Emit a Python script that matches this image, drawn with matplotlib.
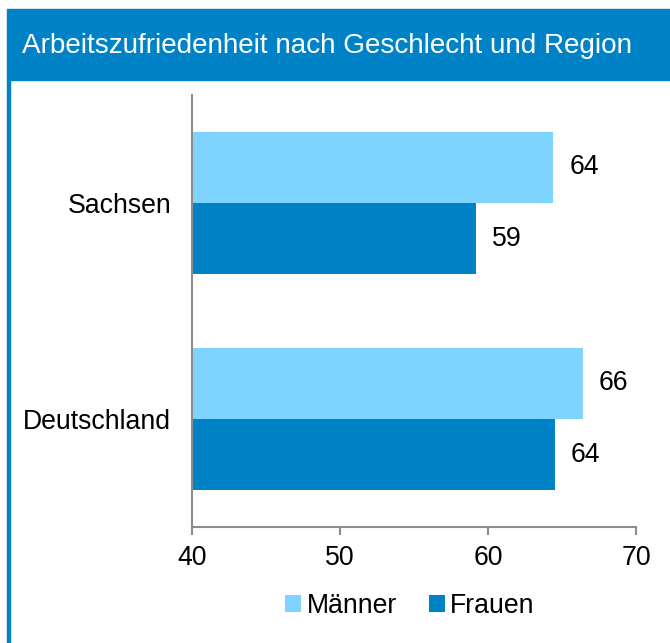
import matplotlib.pyplot as plt
from matplotlib.patches import Rectangle

# Daten
regionen = ['Deutschland', 'Sachsen']
maenner = [66.4, 64.4]
frauen = [64.5, 59.2]
maenner_lbl = [66, 64]
frauen_lbl = [64, 59]
xticks = [40, 50, 60, 70]

hell = '#7fd4ff'
dunkel = '#0083c6'
grau = '#8c8c8c'

plt.rcParams['font.family'] = ['Liberation Sans', 'DejaVu Sans']
fs = 19.2

fig = plt.figure(figsize=(6.7, 6.43), dpi=100)

# Titelbalken und linker Rand
fig.patches.append(Rectangle((7 / 670, 1 - 80 / 643), 1, 71 / 643,
                             transform=fig.transFigure, color=dunkel, zorder=0))
fig.patches.append(Rectangle((7 / 670, 0), 2.5 / 670, 1 - 80 / 643,
                             transform=fig.transFigure, color=dunkel, zorder=0))
fig.text(22 / 670, 1 - 46 / 643, 'Arbeitszufriedenheit nach Geschlecht und Region',
         color='white', fontsize=20.1, va='center', ha='left')

ax = fig.add_axes([192 / 670, 1 - 527 / 643, 444 / 670, 432 / 643])

h = 0.33
pos = list(range(len(regionen)))
ax.barh([p + h / 2 for p in pos], maenner, height=h, color=hell, label='Männer')
ax.barh([p - h / 2 for p in pos], frauen, height=h, color=dunkel, label='Frauen')

for p, v, l in zip(pos, maenner, maenner_lbl):
    ax.text(v + 1.1, p + h / 2, str(l), va='center', ha='left', fontsize=fs)
for p, v, l in zip(pos, frauen, frauen_lbl):
    ax.text(v + 1.1, p - h / 2, str(l), va='center', ha='left', fontsize=fs)

ax.set_xlim(40, 70)
ax.set_ylim(-0.5, 1.5)
ax.set_xticks(xticks)
ax.set_yticks(pos)
ax.set_yticklabels(regionen, fontsize=fs)
ax.tick_params(axis='y', length=0, pad=15)
ax.tick_params(axis='x', length=6, width=1.5, color=grau, labelsize=fs, pad=7)

for s in ['top', 'right']:
    ax.spines[s].set_visible(False)
for s in ['left', 'bottom']:
    ax.spines[s].set_color(grau)
    ax.spines[s].set_linewidth(1.5)

fig.legend(loc='center', bbox_to_anchor=(410 / 670, 1 - 606 / 643), ncol=2,
           frameon=False, fontsize=fs, handlelength=0.6, handleheight=0.6,
           handletextpad=0.2, columnspacing=1.2)

fig.savefig('out.png', dpi=100)
